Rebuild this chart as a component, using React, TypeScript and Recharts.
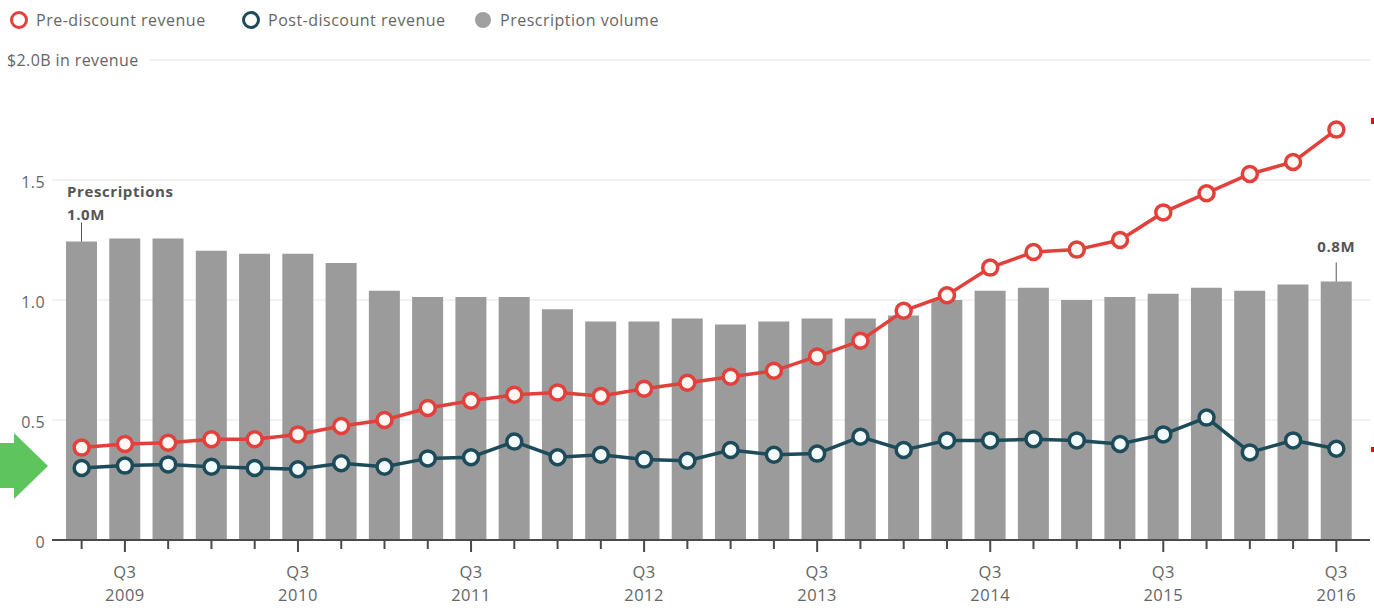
import React from "react";
import {
  ComposedChart,
  Bar,
  Line,
  XAxis,
  YAxis,
  CartesianGrid,
  LabelList,
} from "recharts";

const quarters = [
  "2009 Q2", "2009 Q3", "2009 Q4",
  "2010 Q1", "2010 Q2", "2010 Q3", "2010 Q4",
  "2011 Q1", "2011 Q2", "2011 Q3", "2011 Q4",
  "2012 Q1", "2012 Q2", "2012 Q3", "2012 Q4",
  "2013 Q1", "2013 Q2", "2013 Q3", "2013 Q4",
  "2014 Q1", "2014 Q2", "2014 Q3", "2014 Q4",
  "2015 Q1", "2015 Q2", "2015 Q3", "2015 Q4",
  "2016 Q1", "2016 Q2", "2016 Q3",
];

// revenue in $B
const preDiscount = [
  0.385, 0.4, 0.405, 0.42, 0.42, 0.44, 0.475, 0.5, 0.55, 0.58, 0.605, 0.615,
  0.6, 0.63, 0.655, 0.68, 0.705, 0.765, 0.83, 0.955, 1.02, 1.135, 1.2, 1.21,
  1.25, 1.365, 1.445, 1.525, 1.575, 1.71,
];
const postDiscount = [
  0.3, 0.31, 0.315, 0.305, 0.3, 0.295, 0.32, 0.305, 0.34, 0.345, 0.41, 0.345,
  0.355, 0.335, 0.33, 0.375, 0.355, 0.36, 0.43, 0.375, 0.415, 0.415, 0.42,
  0.415, 0.4, 0.44, 0.51, 0.365, 0.415, 0.38,
];

// prescriptions in millions
const prescriptions = [
  0.97, 0.98, 0.98, 0.94, 0.93, 0.93, 0.9, 0.81, 0.79, 0.79, 0.79, 0.75, 0.71,
  0.71, 0.72, 0.7, 0.71, 0.72, 0.72, 0.73, 0.78, 0.81, 0.82, 0.78, 0.79, 0.8,
  0.82, 0.81, 0.83, 0.84,
];

const revenueTicks = [0, 0.5, 1, 1.5, 2];

const data = quarters.map((q, i) => ({
  q,
  pre: preDiscount[i],
  post: postDiscount[i],
  rx: prescriptions[i],
}));

const RED = "#e2403b";
const TEAL = "#1d4b5a";
const GREY_BAR = "#9b9b9b";
const TEXT = "#666";
const FONT = "'Open Sans', sans-serif";

function QuarterTick(props: any) {
  const { x, y, payload } = props;
  const [year, q] = String(payload.value).split(" ");
  const major = q === "Q3";
  const textProps = {
    textAnchor: "middle" as const,
    dominantBaseline: "central" as const,
    fill: TEXT,
    fontSize: 16.5,
    fontFamily: FONT,
    letterSpacing: 0.5,
  };
  return (
    <g>
      <line x1={x} x2={x} y1={y} y2={y + (major ? 12 : 9)} stroke="#4a4a4a" strokeWidth={2} />
      {major && (
        <>
          <text x={x} y={y + 31} {...textProps}>Q3</text>
          <text x={x} y={y + 54} {...textProps}>{year}</text>
        </>
      )}
    </g>
  );
}

function RevenueTick(props: any) {
  const { x, y, payload } = props;
  const v = Number(payload.value);
  if (v === 2) {
    return (
      <g>
        <rect x={0} y={y - 10} width={150} height={20} fill="#fff" />
        <text x={7} y={y} dominantBaseline="central" fill={TEXT} fontSize={16} letterSpacing={0.4} fontFamily={FONT}>
          $2.0B in revenue
        </text>
      </g>
    );
  }
  const label = v === 0 ? "0" : v.toFixed(1);
  return (
    <text x={x} y={y + 2} textAnchor="end" dominantBaseline="central" fill={TEXT} fontSize={16} letterSpacing={0.4} fontFamily={FONT}>
      {label}
    </text>
  );
}

function VolumeCallout(props: any) {
  const { x, y, width, value, index } = props;
  const cx = x + width / 2;
  const txt = `${Number(value).toFixed(1)}M`;
  const textProps = {
    dominantBaseline: "central" as const,
    fill: "#555",
    fontSize: 15,
    fontWeight: 700,
    letterSpacing: 0.6,
    fontFamily: FONT,
  };
  if (index === 0) {
    return (
      <g>
        <text x={x + 1} y={y - 51} {...textProps}>Prescriptions</text>
        <text x={x + 1} y={y - 28} {...textProps}>{txt}</text>
        <line x1={cx} x2={cx} y1={y - 19} y2={y} stroke="#555" strokeWidth={1} />
      </g>
    );
  }
  if (index === quarters.length - 1) {
    return (
      <g>
        <text x={cx} y={y - 36} textAnchor="middle" {...textProps}>{txt}</text>
        <line x1={cx} x2={cx} y1={y - 19} y2={y} stroke="#555" strokeWidth={1} />
      </g>
    );
  }
  return null;
}

function LegendItem({ left, kind, label }: { left: number; kind: "pre" | "post" | "vol"; label: string }) {
  return (
    <div style={{ position: "absolute", left, top: 9, display: "flex", alignItems: "center", height: 22 }}>
      <svg width={22} height={22}>
        {kind === "vol" ? (
          <circle cx={11} cy={11} r={8} fill="#a0a0a0" />
        ) : (
          <circle cx={11} cy={11} r={7.5} fill="#fff" stroke={kind === "pre" ? RED : TEAL} strokeWidth={3} />
        )}
      </svg>
      <span style={{ marginLeft: 6, fontSize: 16, letterSpacing: 0.5, color: TEXT, fontFamily: FONT }}>{label}</span>
    </div>
  );
}

export default function App() {
  return (
    <div style={{ position: "absolute", left: 0, top: 0, width: 1374, height: 613, background: "#fff", fontFamily: FONT }}>
      <LegendItem left={8} kind="pre" label="Pre-discount revenue" />
      <LegendItem left={240} kind="post" label="Post-discount revenue" />
      <LegendItem left={472} kind="vol" label="Prescription volume" />

      <ComposedChart
        width={1374}
        height={613}
        data={data}
        margin={{ top: 60, right: 4, bottom: 0, left: 0 }}
        style={{ position: "absolute", left: 0, top: 0 }}
      >
        <CartesianGrid yAxisId="rev" vertical={false} stroke="#e6e6e6" strokeWidth={1} />
        <XAxis
          dataKey="q"
          interval={0}
          height={73}
          padding={{ left: 8, right: 12 }}
          axisLine={{ stroke: "#4a4a4a", strokeWidth: 2 }}
          tickLine={false}
          tickSize={0}
          tickMargin={0}
          tick={<QuarterTick />}
        />
        <YAxis
          yAxisId="rev"
          domain={[0, 2]}
          ticks={revenueTicks}
          width={52}
          axisLine={false}
          tickLine={false}
          tickSize={0}
          tickMargin={7}
          tick={<RevenueTick />}
        />
        <YAxis yAxisId="vol" domain={[0, 1.56]} hide />
        <Bar yAxisId="vol" dataKey="rx" fill={GREY_BAR} barSize={31} isAnimationActive={false}>
          <LabelList dataKey="rx" content={<VolumeCallout />} />
        </Bar>
        <Line
          yAxisId="rev"
          dataKey="post"
          stroke={TEAL}
          strokeWidth={3.5}
          dot={{ r: 7.5, fill: "#f2fafc", stroke: TEAL, strokeWidth: 3.5 }}
          isAnimationActive={false}
        />
        <Line
          yAxisId="rev"
          dataKey="pre"
          stroke={RED}
          strokeWidth={3.5}
          dot={{ r: 7.5, fill: "#fff8f4", stroke: RED, strokeWidth: 3.5 }}
          isAnimationActive={false}
        />
      </ComposedChart>

      <svg width={1374} height={613} style={{ position: "absolute", left: 0, top: 0, pointerEvents: "none" }}>
        <polygon points="0,443 14,443 14,433 48,466 14,499 14,488 0,488" fill="#5ec45e" />
        <rect x={1371} y={118} width={3} height={6} fill="#e01010" />
        <rect x={1371} y={447} width={3} height={5} fill="#e01010" />
      </svg>
    </div>
  );
}
